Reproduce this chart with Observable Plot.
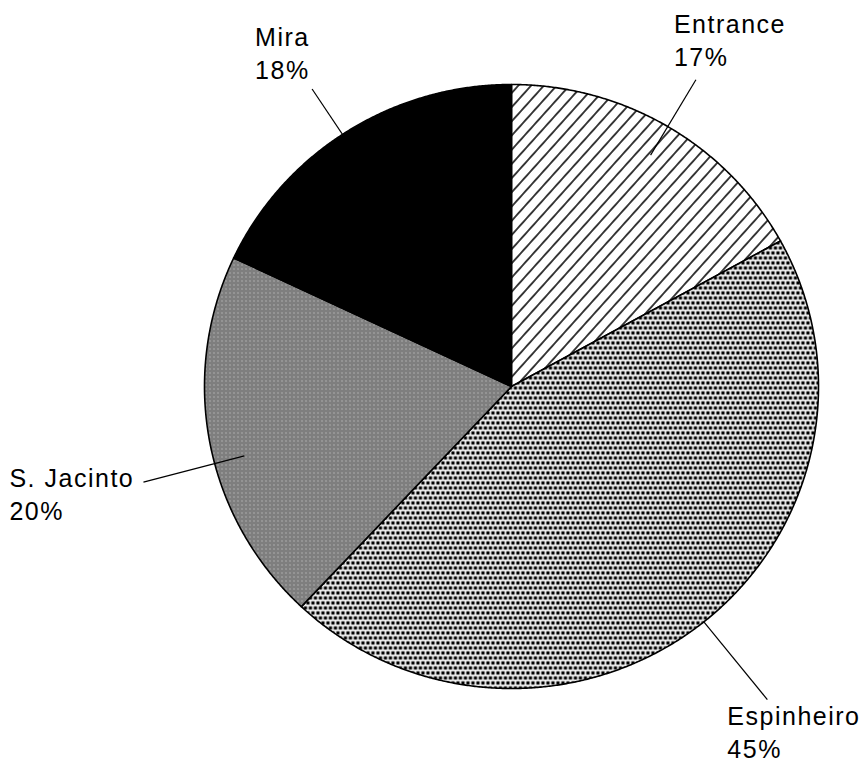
<!DOCTYPE html>
<html><head><meta charset="utf-8">
<script src="https://cdn.jsdelivr.net/npm/d3@7"></script>
<script src="https://cdn.jsdelivr.net/npm/@observablehq/plot@0.6"></script>
<style>
body{margin:0;background:#fff}
#chart svg text{letter-spacing:1.5px}
</style>
</head><body><div id="chart"></div>
<script>
// ---- data ----
const sites = ["Entrance", "Espinheiro", "S. Jacinto", "Mira"];
const shares = [17, 45, 20, 18];
const percentLabels = ["17%", "45%", "20%", "18%"];

// ---- styling / layout (not data) ----
const fills = {
  "Entrance": "url(#hatch)",
  "Espinheiro": "url(#dots)",
  "S. Jacinto": "url(#grey)",
  "Mira": "#000"
};
const labelLayout = {
  "Entrance":   {r0: 0.89, r1: 1.18, da: 0,  dx: -22,  dy: -70},
  "Espinheiro": {r0: 1.0,  r1: 1.33, da: -1, dx: -40,  dy: 2},
  "S. Jacinto": {r0: 0.9,  r1: 1.24, da: -4, dx: -134, dy: -19},
  "Mira":       {r0: 0.9,  r1: 1.18, da: -1, dx: -57,  dy: -66}
};

const table = sites.map((s, i) => ({site: s, share: shares[i], pct: percentLabels[i]}));
const arcs = d3.pie().sort(null).value(d => d.share)(table);

const marks = [];
for (const a of arcs) {
  const pts = [{x: 0, y: 0}];
  const n = Math.max(8, Math.ceil((a.endAngle - a.startAngle) / 0.005));
  for (let k = 0; k <= n; k++) {
    const t = a.startAngle + (a.endAngle - a.startAngle) * k / n;
    pts.push({x: Math.sin(t), y: Math.cos(t)});
  }
  pts.push({x: 0, y: 0});
  marks.push(Plot.line(pts, {x: "x", y: "y", fill: fills[a.data.site], stroke: "#000", strokeWidth: 1.6, strokeLinejoin: "round"}));
}
for (const a of arcs) {
  const L = labelLayout[a.data.site];
  const m = (a.startAngle + a.endAngle) / 2 + L.da * Math.PI / 180;
  const seg = [{
    x1: L.r0 * Math.sin(m), y1: L.r0 * Math.cos(m),
    x2: L.r1 * Math.sin(m), y2: L.r1 * Math.cos(m),
    label: a.data.site + "\n" + a.data.pct
  }];
  marks.push(Plot.link(seg, {x1: "x1", y1: "y1", x2: "x2", y2: "y2", stroke: "#000", strokeWidth: 1.2}));
  marks.push(Plot.text(seg, {x: "x2", y: "y2", text: "label", textAnchor: "start", lineAnchor: "top",
    lineHeight: 1.32, dx: L.dx, dy: L.dy, fontSize: 25, fill: "#000"}));
}

const chart = Plot.plot({
  width: 866, height: 768, margin: 0,
  style: {fontFamily: "'Liberation Sans', Arial, sans-serif", background: "#fff", overflow: "visible"},
  x: {domain: [-1, 1], range: [204, 818], axis: null},
  y: {domain: [-1, 1], range: [688, 84], axis: null},
  marks
});

// pattern definitions
const defs = d3.select(chart).insert("defs", ":first-child");
const hs = 9.5;
const h = defs.append("pattern").attr("id", "hatch").attr("patternUnits", "userSpaceOnUse")
  .attr("width", hs).attr("height", hs).attr("patternTransform", "rotate(-48)");
h.append("rect").attr("width", hs).attr("height", hs).attr("fill", "#fff");
h.append("rect").attr("y", 4).attr("width", hs).attr("height", 1.5).attr("fill", "#000");

const d = defs.append("pattern").attr("id", "dots").attr("patternUnits", "userSpaceOnUse")
  .attr("width", 5).attr("height", 10);
d.append("rect").attr("width", 5).attr("height", 10).attr("fill", "#fff");
for (const [px, py] of [[0.8, 0.8], [3.3, 5.8], [-1.7, 5.8]]) {
  d.append("rect").attr("x", px).attr("y", py).attr("width", 3.3).attr("height", 3.3).attr("fill", "#000");
}

const g = defs.append("pattern").attr("id", "grey").attr("patternUnits", "userSpaceOnUse")
  .attr("width", 4).attr("height", 4);
g.append("rect").attr("width", 4).attr("height", 4).attr("fill", "#a8a8a8");
for (const [px, py] of [[0,0],[2,0],[1,1],[3,1],[0,2],[2,2],[1,3],[3,3]]) {
  g.append("rect").attr("x", px).attr("y", py).attr("width", 1).attr("height", 1).attr("fill", "#555");
}
g.append("rect").attr("x", 1).attr("y", 0).attr("width", 1).attr("height", 1).attr("fill", "#fff");

document.getElementById("chart").append(chart);
</script>
</body></html>
